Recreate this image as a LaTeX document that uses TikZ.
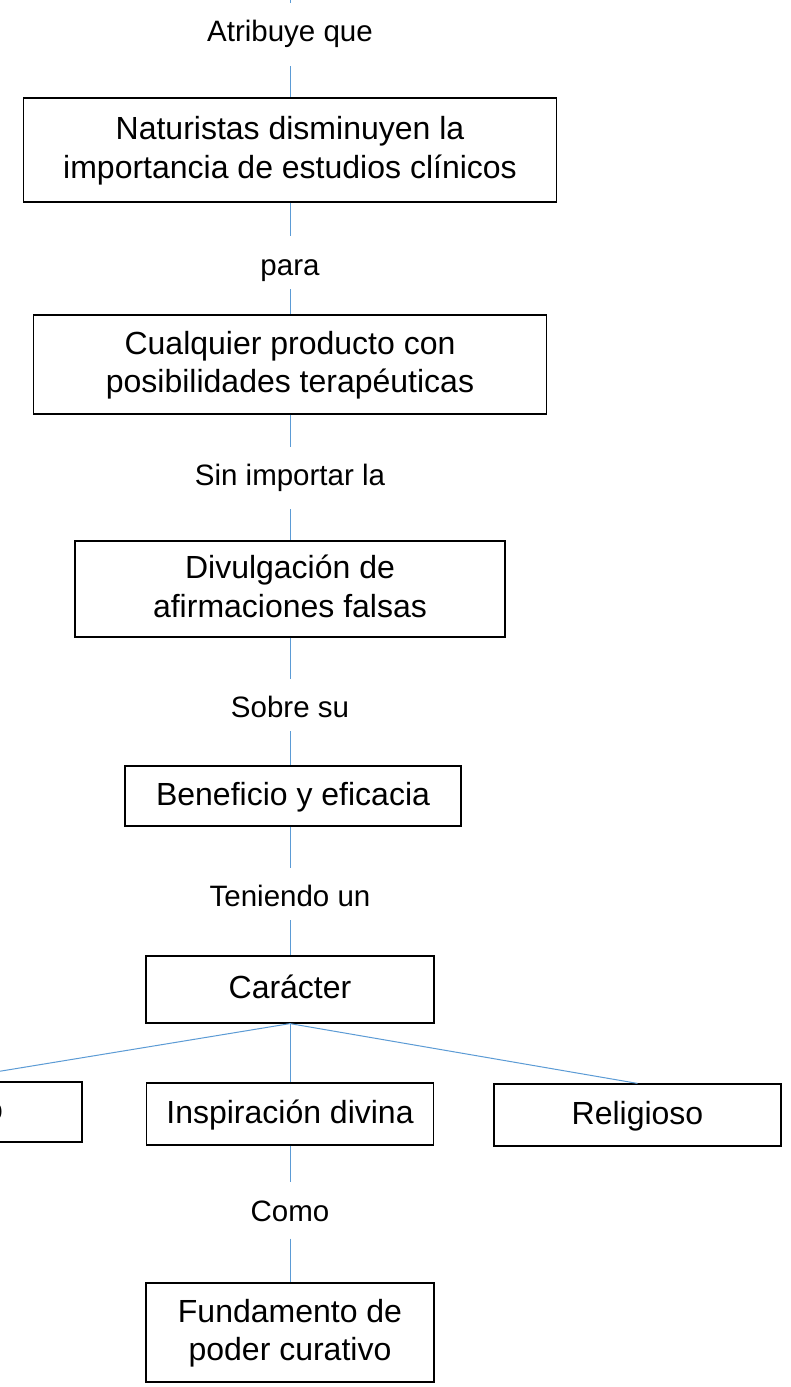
\documentclass[tikz,border=0pt]{standalone}
\usepackage{fontspec}
\setmainfont{Liberation Sans}
\definecolor{linkblue}{HTML}{5B9BD5}
\begin{document}
\begin{tikzpicture}[x=1pt,y=-1pt,
  box/.style={draw=black, line width=1.2pt, inner sep=0pt, align=center, fill=white,
    font=\fontsize{32}{38.5}\selectfont, text height=23pt, text depth=5pt},
  twoline/.style={text height=61.5pt, text depth=5pt},
  lab/.style={inner sep=0pt, minimum height=56pt, font=\fontsize{29.5}{35}\selectfont,
    text height=21pt, text depth=0pt},
  conn/.style={draw=linkblue, line width=1pt}]
\useasboundingbox (0,0) rectangle (791,1387);
\clip (0,0) rectangle (791,1387);
\fill[white] (0,0) rectangle (791,1387);

% boxes
\node[box, twoline, minimum width=533pt, minimum height=104pt] (b1) at (290,150) {Naturistas disminuyen la\\importancia de estudios clínicos};
\node[box, twoline, minimum width=513pt, minimum height=99pt] (b2) at (290,364.5) {Cualquier producto con\\posibilidades terapéuticas};
\node[box, twoline, minimum width=430pt, minimum height=96pt] (b3) at (290,589) {Divulgación de\\afirmaciones falsas};
\node[box, minimum width=336pt, minimum height=60pt] (b4) at (293,796) {Beneficio y eficacia};
\node[box, minimum width=288pt, minimum height=67pt] (b5) at (290,989.5) {Carácter};
\node[box, minimum width=287pt, minimum height=62pt] (b6) at (290,1114) {Inspiración divina};
\node[box, minimum width=287pt, minimum height=62pt] (b7) at (637.5,1115) {Religioso};
\node[box, minimum width=288pt, minimum height=60pt] (bL) at (-62,1112) {};
\node[anchor=base east, inner sep=0pt, font=\fontsize{32}{38.5}\selectfont] (lo) at ([xshift=65pt,yshift=-8pt]bL.center) {o};
\node[box, twoline, minimum width=288pt, minimum height=99pt] (b8) at (290,1332.5) {Fundamento de\\poder curativo};

% labels
\node[lab] (l1) at (290,31) {Atribuye que};
\node[lab] (l2) at (290,264.5) {para};
\node[lab] (l3) at (290,475) {Sin importar la};
\node[lab] (l4) at (290,707) {Sobre su};
\node[lab] (l5) at (290,895.7) {Teniendo un};
\node[lab] (l6) at (290,1210.5) {Como};

% connectors
\coordinate (top) at (290,0);
\draw[conn] (top) -- (l1.north);
\draw[conn, shorten <=7pt] (l1.south) -- (b1.north);
\draw[conn] (b1.south) -- (l2.north);
\draw[conn, shorten <=-3.5pt] (l2.south) -- (b2.north);
\draw[conn] (b2.south) -- (l3.north);
\draw[conn, shorten <=6pt] (l3.south) -- (b3.north);
\draw[conn] (b3.south) -- (l4.north);
\draw[conn, shorten <=-4pt] (l4.south) -- (b4.north -| l4.south);
\draw[conn] (b4.south -| l4.south) -- (l5.north);
\draw[conn, shorten <=-3.7pt] (l5.south) -- (b5.north);
\draw[conn] (b5.south) -- (bL.north);
\draw[conn] (b5.south) -- (b6.north);
\draw[conn] (b5.south) -- (b7.north);
\draw[conn] (b6.south) -- (l6.north);
\draw[conn] (l6.south) -- (b8.north);
\end{tikzpicture}
\end{document}
